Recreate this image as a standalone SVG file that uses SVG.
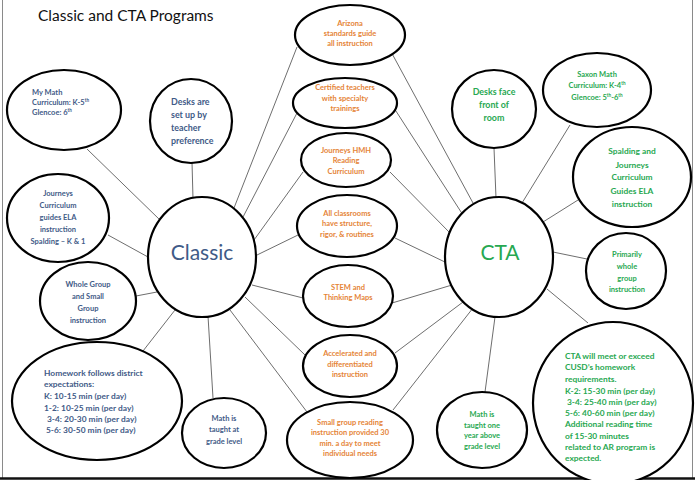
<svg xmlns="http://www.w3.org/2000/svg" width="695" height="480" viewBox="0 0 695 480">
<style>
  .n { fill: #ffffff; stroke: #000000; stroke-width: 2.2; }
  .c line { stroke: #6e6e6e; stroke-width: 1; }
  text { font-family: Lato, "Open Sans", "Liberation Sans", sans-serif; font-weight: bold; }
  .b { fill: #3f5b87; }
  .o { fill: #e58437; }
  .g { fill: #27a851; }
  .s7 { font-size: 7.5px; }
  .s8 { font-size: 8.4px; }
  .s9 { font-size: 8.9px; }
  .mid { text-anchor: middle; }
  .big { font-size: 21px; font-weight: normal; text-anchor: middle; }
</style>
<rect x="0" y="0" width="695" height="480" fill="#ffffff"/>
<g id="frame">
  <line x1="2.5" y1="0" x2="2.5" y2="478" stroke="#8a8a8a" stroke-width="1"/>
  <line x1="692.5" y1="0" x2="692.5" y2="478" stroke="#8a8a8a" stroke-width="1"/>
  <line x1="0" y1="478.5" x2="695" y2="478.5" stroke="#111111" stroke-width="2.5"/>
</g>
<text x="38" y="21" style="font-size:15.5px;font-weight:normal;fill:#111111">Classic and CTA Programs</text>

<g class="c" id="connectors">
  <line x1="87" y1="149" x2="160" y2="220"/>
  <line x1="192" y1="162" x2="193" y2="199"/>
  <line x1="108" y1="235" x2="148" y2="257"/>
  <line x1="136" y1="296" x2="157" y2="292"/>
  <line x1="175" y1="310" x2="143" y2="351"/>
  <line x1="208" y1="316" x2="213" y2="398"/>
  <line x1="234" y1="208" x2="297" y2="47"/>
  <line x1="243" y1="217" x2="297" y2="113"/>
  <line x1="254" y1="240" x2="303" y2="172"/>
  <line x1="257" y1="255" x2="298" y2="235"/>
  <line x1="252" y1="285" x2="303" y2="298"/>
  <line x1="245" y1="297" x2="305" y2="355"/>
  <line x1="230" y1="310" x2="307" y2="412"/>
  <line x1="389" y1="48" x2="473" y2="203"/>
  <line x1="394" y1="108" x2="463" y2="215"/>
  <line x1="390" y1="172" x2="450" y2="233"/>
  <line x1="395" y1="238" x2="447" y2="263"/>
  <line x1="392" y1="303" x2="452" y2="285"/>
  <line x1="395" y1="353" x2="463" y2="302"/>
  <line x1="393" y1="410" x2="473" y2="308"/>
  <line x1="494" y1="148" x2="496" y2="198"/>
  <line x1="570" y1="125" x2="522" y2="203"/>
  <line x1="578" y1="200" x2="543" y2="222"/>
  <line x1="553" y1="252" x2="587" y2="259"/>
  <line x1="547" y1="289" x2="588" y2="323"/>
  <line x1="495" y1="317" x2="485" y2="392"/>
</g>

<g id="n-mymath">
  <ellipse class="n" cx="64" cy="110" rx="57" ry="40"/>
  <text class="b s7" x="32" y="95">My Math</text>
  <text class="b s7" x="32" y="105">Curriculum: K-5<tspan font-size="4.6" dy="-3">th</tspan></text>
  <text class="b s7" x="32" y="115">Glencoe: 6<tspan font-size="4.6" dy="-3">th</tspan></text>
</g>
<g id="n-desks-classic">
  <ellipse class="n" cx="191" cy="121" rx="41" ry="42"/>
  <text class="b s9" x="171" y="105">Desks are</text>
  <text class="b s9" x="171" y="118">set up by</text>
  <text class="b s9" x="171" y="131">teacher</text>
  <text class="b s9" x="171" y="144">preference</text>
</g>
<g id="n-journeys-classic">
  <ellipse class="n" cx="58" cy="218" rx="51" ry="44"/>
  <text class="b s7 mid" x="58" y="196">Journeys</text>
  <text class="b s7 mid" x="58" y="208">Curriculum</text>
  <text class="b s7 mid" x="58" y="220">guides ELA</text>
  <text class="b s7 mid" x="58" y="232">instruction</text>
  <text class="b s7 mid" x="58" y="244">Spalding – K &amp; 1</text>
</g>
<g id="n-wholegroup">
  <ellipse class="n" cx="88" cy="301" rx="48" ry="39"/>
  <text class="b s7 mid" x="88" y="287">Whole Group</text>
  <text class="b s7 mid" x="88" y="299">and Small</text>
  <text class="b s7 mid" x="88" y="311">Group</text>
  <text class="b s7 mid" x="88" y="323">instruction</text>
</g>
<g id="n-classic">
  <ellipse class="n" cx="202" cy="257" rx="54" ry="60"/>
  <text class="b big" x="202" y="260">Classic</text>
</g>
<g id="n-homework-classic">
  <ellipse class="n" cx="97" cy="401" rx="85" ry="59"/>
  <text class="b s8" x="44" y="376">Homework follows district</text>
  <text class="b s8" x="44" y="387">expectations:</text>
  <text class="b s8" x="44" y="399">K: 10-15 min (per day)</text>
  <text class="b s8" x="44" y="411">1-2: 10-25 min (per day)</text>
  <text class="b s8" x="47" y="422">3-4: 20-30 min (per day)</text>
  <text class="b s8" x="46" y="433">5-6: 30-50 min (per day)</text>
</g>
<g id="n-math-classic">
  <ellipse class="n" cx="224" cy="433" rx="42" ry="35"/>
  <text class="b s7 mid" x="224" y="421">Math is</text>
  <text class="b s7 mid" x="224" y="432">taught at</text>
  <text class="b s7 mid" x="224" y="444">grade level</text>
</g>

<g id="n-arizona">
  <ellipse class="n" cx="350" cy="35" rx="55" ry="30"/>
  <text class="o s7 mid" x="350" y="26">Arizona</text>
  <text class="o s7 mid" x="350" y="36">standards guide</text>
  <text class="o s7 mid" x="350" y="46">all instruction</text>
</g>
<g id="n-certified">
  <ellipse class="n" cx="345" cy="103" rx="52" ry="25"/>
  <text class="o s7 mid" x="345" y="90">Certified teachers</text>
  <text class="o s7 mid" x="345" y="101">with specialty</text>
  <text class="o s7 mid" x="345" y="111">trainings</text>
</g>
<g id="n-journeyshmh">
  <ellipse class="n" cx="346" cy="160" rx="45" ry="27"/>
  <text class="o s7 mid" x="346" y="153">Journeys HMH</text>
  <text class="o s7 mid" x="346" y="163">Reading</text>
  <text class="o s7 mid" x="346" y="174">Curriculum</text>
</g>
<g id="n-structure">
  <ellipse class="n" cx="347" cy="226" rx="50" ry="31"/>
  <text class="o s7 mid" x="347" y="216">All classrooms</text>
  <text class="o s7 mid" x="347" y="226">have structure,</text>
  <text class="o s7 mid" x="347" y="237">rigor, &amp; routines</text>
</g>
<g id="n-stem">
  <ellipse class="n" cx="348" cy="296" rx="45" ry="31"/>
  <text class="o s7 mid" x="348" y="290">STEM and</text>
  <text class="o s7 mid" x="348" y="300">Thinking Maps</text>
</g>
<g id="n-accelerated">
  <ellipse class="n" cx="350" cy="366" rx="47" ry="31"/>
  <text class="o s7 mid" x="350" y="356">Accelerated and</text>
  <text class="o s7 mid" x="350" y="367">differentiated</text>
  <text class="o s7 mid" x="350" y="377">instruction</text>
</g>
<g id="n-smallgroup">
  <ellipse class="n" cx="350" cy="440" rx="63" ry="38"/>
  <text class="o s7 mid" x="350" y="425">Small group reading</text>
  <text class="o s7 mid" x="350" y="435">instruction provided 30</text>
  <text class="o s7 mid" x="350" y="446">min. a day to meet</text>
  <text class="o s7 mid" x="350" y="456">individual needs</text>
</g>

<g id="n-cta">
  <ellipse class="n" cx="499" cy="257" rx="54" ry="60"/>
  <text class="g big" x="500" y="260">CTA</text>
</g>
<g id="n-desks-cta">
  <ellipse class="n" cx="494" cy="109" rx="42" ry="39"/>
  <text class="g s9 mid" x="494" y="95">Desks face</text>
  <text class="g s9 mid" x="494" y="108">front of</text>
  <text class="g s9 mid" x="494" y="121">room</text>
</g>
<g id="n-saxon">
  <ellipse class="n" cx="597" cy="90" rx="54" ry="37"/>
  <text class="g s7 mid" x="597" y="77">Saxon Math</text>
  <text class="g s7 mid" x="597" y="88">Curriculum: K-4<tspan font-size="4.6" dy="-3">th</tspan></text>
  <text class="g s7 mid" x="597" y="100">Glencoe: 5<tspan font-size="4.6" dy="-3">th</tspan><tspan dy="3">-6</tspan><tspan font-size="4.6" dy="-3">th</tspan></text>
</g>
<g id="n-spalding">
  <ellipse class="n" cx="632" cy="177" rx="59" ry="50"/>
  <text class="g s8 mid" x="632" y="154">Spalding and</text>
  <text class="g s8 mid" x="632" y="168">Journeys</text>
  <text class="g s8 mid" x="632" y="180">Curriculum</text>
  <text class="g s8 mid" x="632" y="194">Guides ELA</text>
  <text class="g s8 mid" x="632" y="207">instruction</text>
</g>
<g id="n-primarily">
  <ellipse class="n" cx="626" cy="271" rx="40" ry="38"/>
  <text class="g s7 mid" x="627" y="257">Primarily</text>
  <text class="g s7 mid" x="627" y="269">whole</text>
  <text class="g s7 mid" x="627" y="281">group</text>
  <text class="g s7 mid" x="627" y="292">instruction</text>
</g>
<g id="n-homework-cta">
  <ellipse class="n" cx="613" cy="403" rx="80" ry="81"/>
  <text class="g s8" x="565" y="359">CTA will meet or exceed</text>
  <text class="g s8" x="565" y="370">CUSD’s homework</text>
  <text class="g s8" x="565" y="382">requirements.</text>
  <text class="g s8" x="565" y="394">K-2: 15-30 min (per day)</text>
  <text class="g s8" x="567" y="405">3-4: 25-40 min (per day)</text>
  <text class="g s8" x="565" y="416">5-6: 40-60 min (per day)</text>
  <text class="g s8" x="565" y="427">Additional reading time</text>
  <text class="g s8" x="565" y="439">of 15-30 minutes</text>
  <text class="g s8" x="565" y="450">related to AR program is</text>
  <text class="g s8" x="565" y="461">expected.</text>
</g>
<g id="n-math-cta">
  <ellipse class="n" cx="482" cy="430" rx="45" ry="38"/>
  <text class="g s7 mid" x="482" y="417">Math is</text>
  <text class="g s7 mid" x="482" y="428">taught one</text>
  <text class="g s7 mid" x="482" y="438">year above</text>
  <text class="g s7 mid" x="482" y="449">grade level</text>
</g>
</svg>
